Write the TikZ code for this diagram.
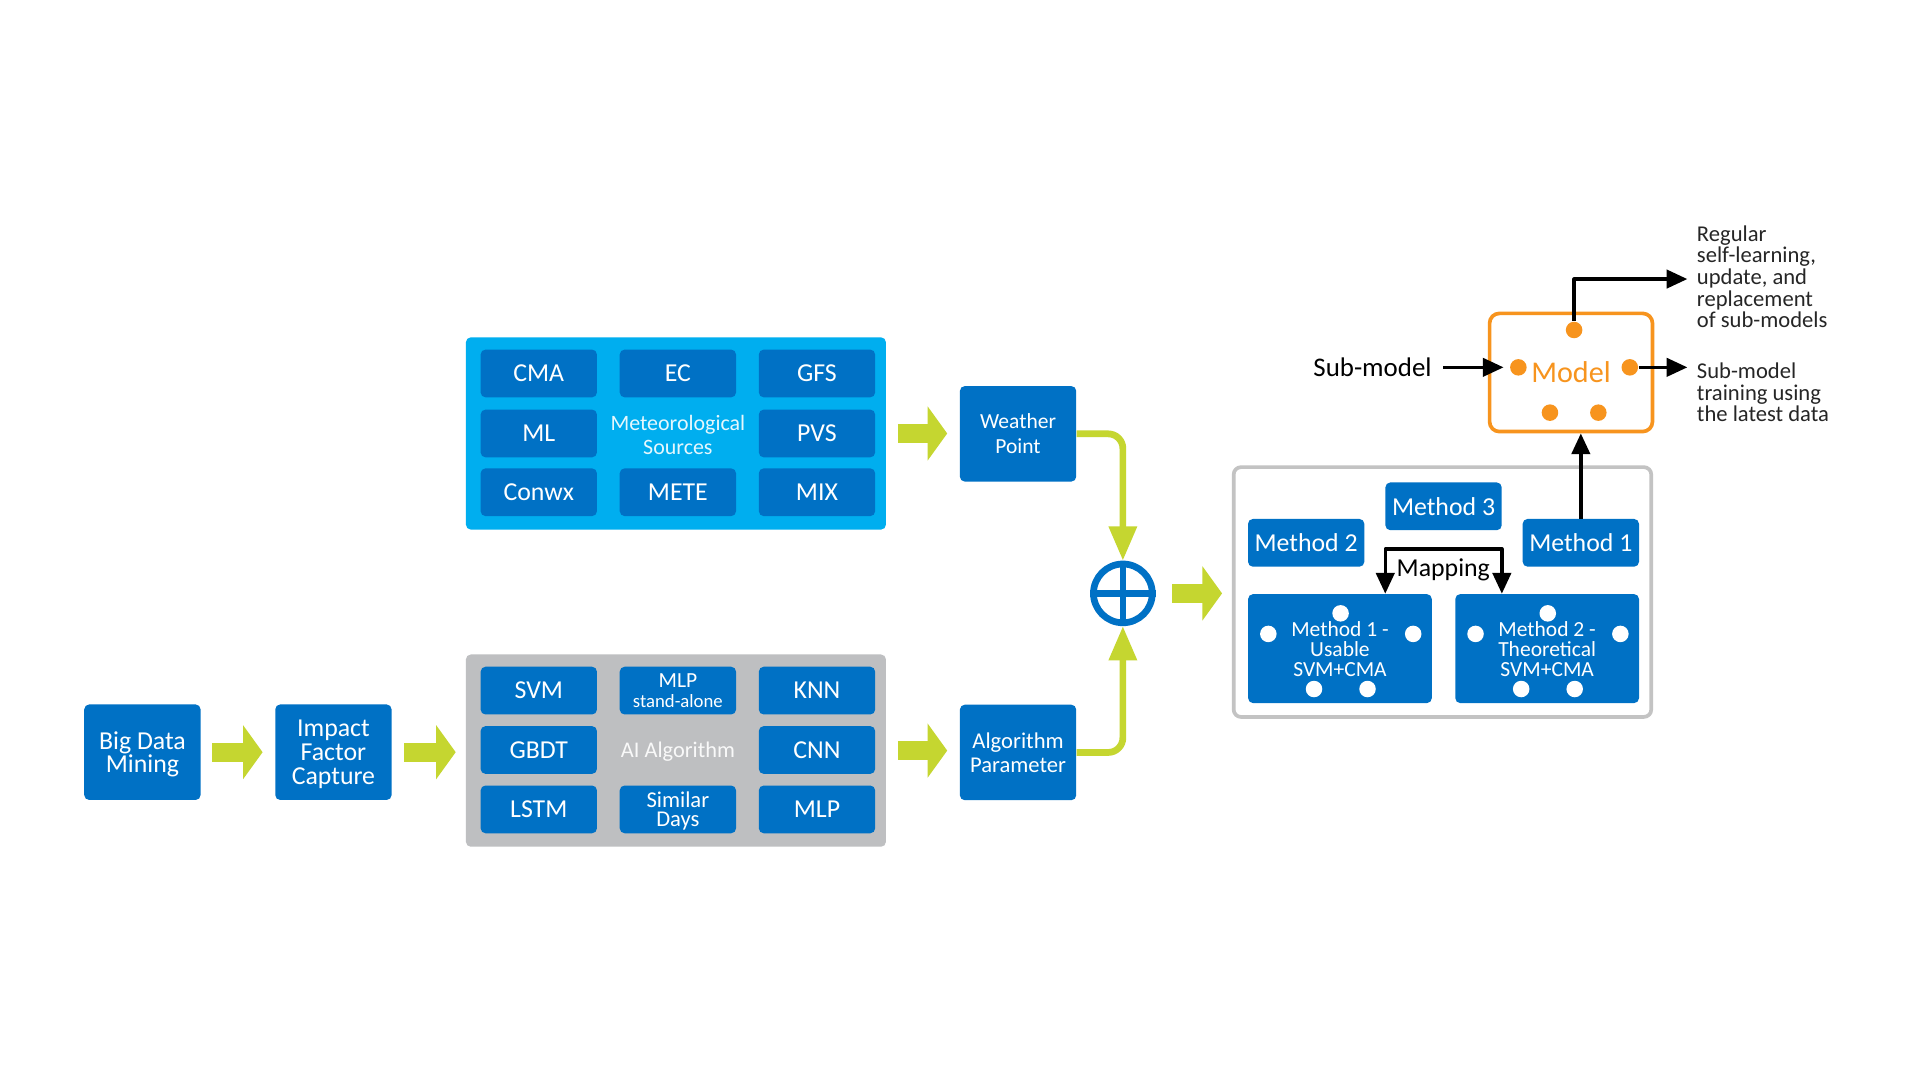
\documentclass[tikz,border=0pt]{standalone}
\usepackage{fontspec}
\setmainfont{Carlito}
\usetikzlibrary{arrows.meta,calc,positioning}
\definecolor{iblue}{HTML}{0071C5}
\definecolor{skyblue}{HTML}{00AEEF}
\definecolor{panelgray}{HTML}{BEBFC1}
\definecolor{framegray}{HTML}{C3C3C3}
\definecolor{ygreen}{HTML}{C5D630}
\definecolor{morange}{HTML}{F7941E}
\begin{document}
\begin{tikzpicture}[x=0.2mm,y=-0.2mm,line join=round,
 box/.style={fill=iblue,text=white,rounded corners=0.8mm,minimum width=19mm,minimum height=15.6mm,inner sep=0pt,align=center,text depth=-2pt,font=\fontsize{12}{11}\selectfont},
 cell/.style={box,minimum height=7.8mm,font=\fontsize{12}{12}\selectfont},
 wide/.style={box,minimum width=30mm,minimum height=17.8mm,font=\fontsize{10}{9.3}\selectfont},
 panel/.style={rounded corners=0.8mm,minimum width=68.6mm,minimum height=31.4mm,inner sep=0pt},
 note/.style={inner sep=0pt,align=left,text=black!85,font=\fontsize{10.5}{10.1}\selectfont},
 fat/.style={ygreen,line width=3.1mm,-{Triangle[length=3.2mm,width=8.7mm]}},
 feed/.style={ygreen,line width=1.1mm,rounded corners=2.4mm,-{Triangle[length=5.6mm,width=4.4mm]}},
 blk/.style={line width=0.55mm,>={Triangle[length=3.4mm,width=3mm]}},
 wdot/.style={circle,fill=white,inner sep=0pt,minimum size=2.7mm},
 odot/.style={wdot,fill=morange}]
\fill[white] (0,0) rectangle (1568,882);
\node[box] (bigdata) at (116.3,614.3) {Big Data\\Mining};
\node[box] (impact) at (272.3,614.3) {Impact\\Factor\\Capture};
\node[panel,fill=skyblue] (metpanel) at (552,354) {};
\node[panel,fill=panelgray] (aipanel) at (552,613) {};
\foreach \n/\t/\x/\y in {cma/CMA/440/305,ec/EC/553.6/305,gfs/GFS/667.2/305,ml/ML/440/354,pvs/PVS/667.2/354,conwx/Conwx/440/402,mete/METE/553.6/402,mix/MIX/667.2/402,svm/SVM/440/564,knn/KNN/667.2/564,gbdt/GBDT/440/612.5,cnn/CNN/667.2/612.5,lstm/LSTM/440/661,mlp/MLP/667.2/661}
 \node[cell] (\n) at (\x,\y) {\t};
\node[cell,font=\fontsize{10}{9.2}\selectfont] (mlpsa) at (553.6,564) {MLP\\{\fontsize{8.7}{9.2}\selectfont stand-alone}};
\node[cell,font=\fontsize{10.5}{8.8}\selectfont] (simdays) at (553.6,661) {Similar\\Days};
\node[inner sep=0pt,align=center,text=white!90!skyblue,font=\fontsize{10.2}{11.4}\selectfont] (metsrc) at (553.6,355.2) {Meteorological\\Sources};
\node[inner sep=0pt,text depth=0pt,text=white!90!panelgray,font=\fontsize{10.4}{12}\selectfont] (aialg) at (553.6,612.5) {AI Algorithm};
\node[box,font=\fontsize{10}{11.6}\selectfont] (wp) at (831.4,354.3) {Weather\\Point};
\node[box,font=\fontsize{10.5}{11.4}\selectfont] (ap) at (831.4,614.5) {Algorithm\\Parameter};
\node[circle,draw=iblue,line width=1.1mm,minimum size=9.6mm,inner sep=0pt] (sum) at (917,484.6) {};
\draw[iblue,line width=1.1mm] (sum.north) -- (sum.south) (sum.west) -- (sum.east);
\node[draw=framegray,line width=0.6mm,rounded corners=1.2mm,minimum width=68.2mm,minimum height=40.8mm,inner sep=0pt] (mpanel) at (1178,483.5) {};
\node[cell] (m3) at (1178.9,413.5) {Method 3};
\node[cell] (m2) at (1066.7,443.3) {Method 2};
\node[cell] (m1) at (1291,443.3) {Method 1};
\node[wide] (usable) at (1094.3,529.7) {Method 1 -\\Usable\\SVM+CMA};
\node[wide] (theo) at (1263.5,529.7) {Method 2 -\\Theoretical\\SVM+CMA};
\foreach \bx in {usable,theo}
 \foreach \dx/\dy [count=\i] in {0.5/-28.8,-58.5/-12,59.8/-12,-21.2/33,22.5/33}
  \node[wdot] (\bx-\i) at ($(\bx)+(\dx,\dy)$) {};
\node[draw=morange,line width=0.6mm,rounded corners=1.6mm,minimum width=26.6mm,minimum height=19.3mm,inner sep=0pt,text depth=-2pt,text=morange,font=\fontsize{14}{14}\selectfont] (model) at (1283,304.2) {Model};
\foreach \n/\dx/\dy in {mtop/2.5/-34.7,mleft/-43/-4.2,mright/48/-4.2,mbl/-17.2/32.8,mbr/22.3/32.8}
 \node[odot] (\n) at ($(model)+(\dx,\dy)$) {};
\draw[fat] ($(bigdata.east)+(9,0)$) -- ($(impact.west)+(-10,0)$);
\draw[fat] ($(impact.east)+(10,0)$) -- ($(impact.east -| aipanel.west)+(-8,0)$);
\draw[fat] ($(metpanel.east)+(9.5,0)$) -- ($(metpanel.east -| wp.west)+(-10,0)$);
\draw[fat] ($(aipanel.east)+(9.5,0)$) -- ($(aipanel.east -| ap.west)+(-10,0)$);
\draw[fat] ($(sum.east)+(13.5,0)$) -- ($(sum.east -| mpanel.west)+(-8,0)$);
\draw[feed] (wp.east) -| (sum.north);
\draw[feed] (ap.east) -| (sum.south);
\draw[blk,<->] ($(usable.north)+(37,0)$) -- ++(0,-36.6) -| ($(theo.north)+(-37,0)$);
\node[inner sep=0pt,text depth=0pt,font=\fontsize{12}{12}\selectfont] (maplbl) at (1178.7,463.3) {Mapping};
\draw[blk,->] (m1.north) -- (m1.north |- model.south);
\coordinate (rtip) at (1378,227.9);
\draw[blk,->] (mtop.north) |- (rtip);
\draw[blk,->] (mright.east) -- (mright.east -| rtip);
\node[inner sep=0pt,anchor=east,font=\fontsize{12.5}{12.5}\selectfont] (submodel) at (1169.5,300) {Sub-model};
\draw[blk,->] ($(submodel.east)+(9,0)$) -- ($(mleft.west)+(-5,0)$);
\node[note,anchor=west] (regular) at (1385.5,226) {Regular\\self-learning,\\update, and\\replacement\\of sub-models};
\node[note,anchor=west] (training) at (1385.5,320.5) {Sub-model\\training using\\the latest data};
\end{tikzpicture}
\end{document}
